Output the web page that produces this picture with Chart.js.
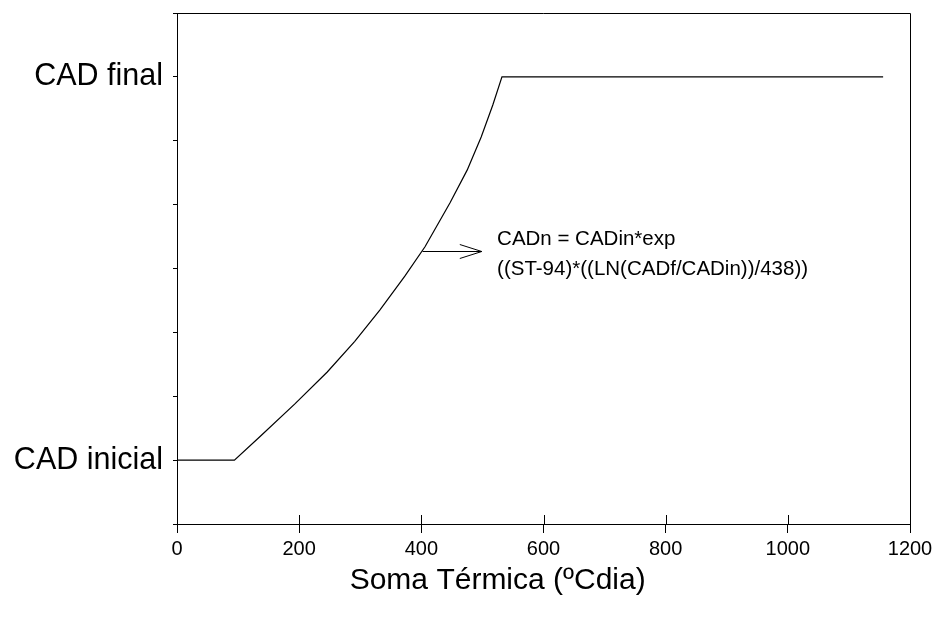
<!DOCTYPE html>
<html lang="pt">
<head>
    <meta charset="UTF-8">
    <title>CAD x Soma Térmica</title>
    <script src="https://cdn.jsdelivr.net/npm/chart.js"></script>
    <style>
        html, body {
            margin: 0;
            padding: 0;
            background: #fff;
        }
        #wrap {
            width: 941px;
            height: 620px;
        }
    </style>
</head>
<body>
    <div id="wrap"><canvas id="chart"></canvas></div>

    <script>
        // valores
        const somaTermica = [0, 94, 136, 193, 246, 291, 332, 373, 406, 447, 475, 498, 517, 532, 1156];
        const cad = [1, 1, 1.37, 1.88, 2.38, 2.86, 3.35, 3.88, 4.34, 5.03, 5.54, 6.06, 6.56, 7, 7];
        const yTickLabels = { 1: 'CAD inicial', 7: 'CAD final' };
        const xTitle = 'Soma Térmica (ºCdia)';
        const formula = ['CADn = CADin*exp', '((ST-94)*((LN(CADf/CADin))/438))'];
        // seta e texto da anotação (em unidades dos eixos)
        const arrowFrom = [402, 4.27];
        const arrowTo = [499, 4.27];
        const textAt = [524, 4.45, 3.98];
        const titleAt = 525; // centro do título do eixo x

        const FONT = "'Liberation Sans', Arial, sans-serif";

        const frame = {
            id: 'frame',
            afterDraw(chart) {
                const ctx = chart.ctx;
                const a = chart.chartArea;
                const xs = chart.scales.x;
                const ys = chart.scales.y;
                ctx.save();
                ctx.strokeStyle = '#000';
                ctx.lineWidth = 1;
                // borda de cima e da direita
                ctx.beginPath();
                ctx.moveTo(a.left, a.top + 0.5);
                ctx.lineTo(a.right + 0.5, a.top + 0.5);
                ctx.lineTo(a.right + 0.5, a.bottom);
                ctx.stroke();
                // marcas do eixo x para dentro
                ctx.beginPath();
                xs.ticks.forEach(t => {
                    const px = Math.round(xs.getPixelForValue(t.value)) + 0.5;
                    ctx.moveTo(px, a.bottom);
                    ctx.lineTo(px, a.bottom - 9);
                });
                ctx.stroke();
                // seta
                const x1 = xs.getPixelForValue(arrowFrom[0]);
                const y1 = Math.round(ys.getPixelForValue(arrowFrom[1])) + 0.5;
                const x2 = xs.getPixelForValue(arrowTo[0]);
                ctx.beginPath();
                ctx.moveTo(x1, y1);
                ctx.lineTo(x2, y1);
                ctx.moveTo(x2 - 22, y1 - 7);
                ctx.lineTo(x2, y1);
                ctx.lineTo(x2 - 22, y1 + 7);
                ctx.stroke();
                // texto da fórmula
                ctx.fillStyle = '#000';
                ctx.font = '20.5px ' + FONT;
                ctx.textBaseline = 'middle';
                ctx.textAlign = 'left';
                const tx = xs.getPixelForValue(textAt[0]);
                ctx.fillText(formula[0], tx, ys.getPixelForValue(textAt[1]));
                ctx.fillText(formula[1], tx, ys.getPixelForValue(textAt[2]));
                // título do eixo x
                ctx.font = '30px ' + FONT;
                ctx.textAlign = 'center';
                ctx.fillText(xTitle, xs.getPixelForValue(titleAt), a.bottom + 57);
                ctx.restore();
            }
        };

        const ctx = document.getElementById('chart').getContext('2d');
        new Chart(ctx, {
            type: 'line',
            data: {
                datasets: [{
                    data: somaTermica.map((x, i) => ({ x: x, y: cad[i] })),
                    borderColor: '#000',
                    borderWidth: 1.2,
                    pointRadius: 0,
                    tension: 0,
                    fill: false
                }]
            },
            options: {
                responsive: true,
                maintainAspectRatio: false,
                animation: false,
                events: [],
                layout: {
                    padding: { top: 13, right: 31, bottom: 0, left: 0 }
                },
                plugins: {
                    legend: { display: false },
                    tooltip: { enabled: false }
                },
                scales: {
                    x: {
                        type: 'linear',
                        min: 0,
                        max: 1200,
                        afterFit: s => {
                            s.height = 96;
                            s.paddingLeft = 0;
                            s.paddingRight = 0;
                        },
                        border: { color: '#000', width: 1 },
                        grid: {
                            drawOnChartArea: false,
                            color: '#000',
                            tickLength: 9
                        },
                        ticks: {
                            stepSize: 200,
                            color: '#000',
                            padding: 4,
                            maxRotation: 0,
                            font: { family: FONT, size: 20 },
                            callback: v => String(v)
                        }
                    },
                    y: {
                        min: 0,
                        max: 8,
                        afterFit: s => {
                            s.width = 177;
                            s.paddingTop = 0;
                            s.paddingBottom = 0;
                        },
                        border: { color: '#000', width: 1 },
                        grid: {
                            drawOnChartArea: false,
                            color: '#000',
                            tickLength: 4
                        },
                        ticks: {
                            stepSize: 1,
                            color: '#000',
                            padding: 10,
                            autoSkip: false,
                            font: { family: FONT, size: 30.5 },
                            callback: v => yTickLabels[v] || ''
                        }
                    }
                }
            },
            plugins: [frame]
        });
    </script>
</body>
</html>
